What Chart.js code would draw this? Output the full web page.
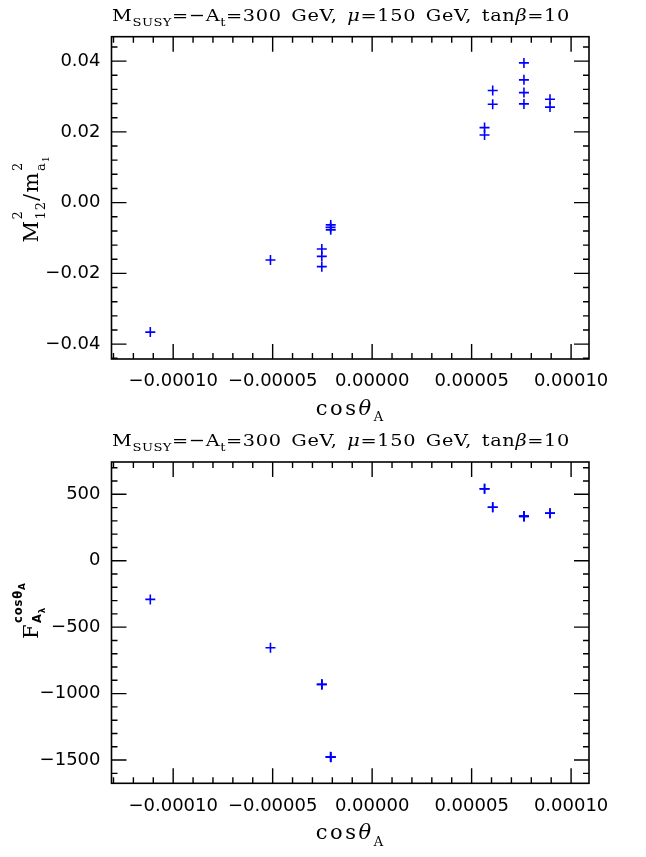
<!DOCTYPE html>
<html><head><meta charset="utf-8">
<script src="https://cdn.jsdelivr.net/npm/chart.js@4.4.1/dist/chart.umd.min.js"></script>
<style>
html,body{margin:0;padding:0;background:#fff;width:646px;height:857px;overflow:hidden}
canvas{position:absolute;left:0}
#c1{top:0}#c2{top:428px}
</style>
</head><body>
<canvas id="c1" width="646" height="428"></canvas>
<canvas id="c2" width="646" height="429"></canvas>
<script>
// ---- data ----
const cosThetaA = [-0.0001115, -0.0000511, -0.0000253, -0.0000253, -0.0000253, -0.0000208, -0.0000209, -0.0000208,
  0.0000565, 0.0000565, 0.0000606, 0.0000606, 0.0000763, 0.0000763, 0.0000763, 0.0000763, 0.0000894, 0.0000894];
const m12Ratio = [-0.0366, -0.0162, -0.0131, -0.0152, -0.0181, -0.0063, -0.0070, -0.0077,
  0.0212, 0.0191, 0.0317, 0.0278, 0.0395, 0.0347, 0.0311, 0.0279, 0.0292, 0.0270];
const fValues = [-291, -655, -931, -930, -932, -1478, -1476, -1479,
  542, 541, 402, 403, 334, 336, 333, 335, 357, 358];
const xTicks = [-0.0001, -0.00005, 0, 0.00005, 0.0001];
const yTicksTop = [-0.04, -0.02, 0, 0.02, 0.04];
const yTicksBottom = [-1500, -1000, -500, 0, 500];

const MINUS = '\u2212';
const fmtX = v => (v < 0 ? MINUS : '') + Math.abs(v).toFixed(5);
const fmtYTop = v => (Math.abs(v) < 1e-12 ? '0.00' : (v < 0 ? MINUS : '') + Math.abs(v).toFixed(2));
const fmtYBot = v => (v < 0 ? MINUS : '') + Math.abs(v);

const TITLE = [{t:'M'},{t:'SUSY',s:.68,dy:.3},{t:'='+MINUS+'A'},{t:'t',s:.68,dy:.3},{t:'=300'},{g:.5},{t:'GeV,'},{g:.5},
  {t:'\u03bc',i:1},{t:'=150'},{g:.5},{t:'GeV,'},{g:.5},{t:'tan'},{t:'\u03b2',i:1},{t:'=10'}];
const XLABEL = [{t:'cos'},{t:'\u03b8',i:1},{t:'A',s:.62,dy:.3}];
const YLABEL_TOP = [{t:'M'},{t:'2',s:.62,dy:-.78,m:1},{t:'12',s:.62,dy:.32,r:1},{t:'/'},{t:'m'},{t:'2',s:.62,dy:-.78,m:1},{t:'a',s:.62,dy:.32,r:1},{t:'1',s:.45,dy:.5}];
const YLABEL_BOT = [{t:'F'},{t:'cos\u03b8',s:.55,dy:-.78,m:1,f:'DejaVu Sans',b:1},{t:'A',s:.42,dy:-.62,f:'DejaVu Sans',b:1},
  {t:'A',s:.55,dy:.15,r:1,f:'DejaVu Sans',b:1},{t:'\u03bb',s:.42,dy:.32,f:'DejaVu Sans',b:1}];

const MINOR_X = 0.00001;

function drawRich(ctx, items, x, y, o) {
  const base = o.base;
  let cursor = 0, maxEnd = 0, anchor = 0;
  const placed = [];
  for (const it of items) {
    if (it.g) { cursor = maxEnd + it.g * base; maxEnd = cursor; continue; }
    const sz = base * (it.s || 1);
    const font = (it.i ? 'italic ' : '') + (it.b ? 'bold ' : '') + sz.toFixed(2) + 'px "' + (it.f || o.family) + '"';
    ctx.font = font;
    const ls = (o.ls || 0) * (it.s || 1);
    ctx.letterSpacing = ls + 'px';
    const w = ctx.measureText(it.t).width;
    if (it.m) anchor = (it.dy ? maxEnd : cursor);
    const sx = it.r ? anchor : (it.dy ? (it.m ? anchor : cursor) : maxEnd);
    placed.push({t: it.t, font, x: sx, dy: (it.dy || 0) * base, ls});
    cursor = sx + w;
    maxEnd = Math.max(maxEnd, cursor);
  }
  const total = maxEnd;
  let sc = 1, width = total;
  if (o.fit) { sc = o.fit / total; width = o.fit; }
  const ox = o.align === 'center' ? -width / 2 : 0;
  ctx.save();
  ctx.translate(x, y);
  if (o.rot) ctx.rotate(o.rot);
  ctx.translate(ox, 0);
  ctx.scale(sc, 1);
  ctx.textBaseline = 'alphabetic'; ctx.textAlign = 'left'; ctx.fillStyle = '#000';
  for (const p of placed) { ctx.font = p.font; ctx.letterSpacing = p.ls + 'px'; ctx.fillText(p.t, p.x, p.dy); }
  ctx.restore();
}

function makeDeco(cfg) {
  return {
    id: 'deco',
    afterDraw(chart) {
      const ctx = chart.ctx, a = chart.chartArea;
      const xs = chart.scales.x, ys = chart.scales.y;
      ctx.save();
      ctx.letterSpacing = '0px';
      ctx.strokeStyle = '#000';
      ctx.lineWidth = 1.4;
      const majL = 15, minL = 6;
      const near = (v, arr, st) => arr.some(m => Math.abs(m - v) < st * 0.01);
      ctx.beginPath();
      const kx0 = Math.ceil(xs.min / MINOR_X - 1e-6), kx1 = Math.floor(xs.max / MINOR_X + 1e-6);
      for (let k = kx0; k <= kx1; k++) {
        const v = k * MINOR_X;
        const L = near(v, xTicks, MINOR_X) ? majL : minL;
        const p = xs.getPixelForValue(v);
        ctx.moveTo(p, a.bottom); ctx.lineTo(p, a.bottom - L);
        ctx.moveTo(p, a.top); ctx.lineTo(p, a.top + L);
      }
      const ky0 = Math.ceil(ys.min / cfg.minorY - 1e-6), ky1 = Math.floor(ys.max / cfg.minorY + 1e-6);
      for (let k = ky0; k <= ky1; k++) {
        const v = k * cfg.minorY;
        const L = near(v, cfg.yMajor, cfg.minorY) ? majL : minL;
        const p = ys.getPixelForValue(v);
        ctx.moveTo(a.left, p); ctx.lineTo(a.left + L, p);
        ctx.moveTo(a.right, p); ctx.lineTo(a.right - L, p);
      }
      ctx.stroke();
      ctx.lineWidth = 1.6;
      ctx.strokeRect(a.left, a.top, a.right - a.left, a.bottom - a.top);
      ctx.restore();
      drawRich(ctx, TITLE, 341, cfg.titleY, {base: 17.5, family: 'DejaVu Serif', align: 'center', ls: 0.6, fit: 458});
      drawRich(ctx, XLABEL, (a.left + a.right) / 2, a.bottom + 56, {base: 21, family: 'DejaVu Serif', align: 'center', ls: 2.5});
      drawRich(ctx, cfg.yLabel, 38, cfg.yLabelY, {base: 21, family: 'DejaVu Serif', align: cfg.yLabelAlign, ls: 1.5, rot: -Math.PI / 2});
    }
  };
}

function makeChart(id, yVals, yMin, yMax, yTicks, fmtY, minorY, padTop, xH, yLabel, yLabelY, yLabelAlign, titleY) {
  const pts = cosThetaA.map((x, i) => ({x, y: yVals[i]}));
  return new Chart(document.getElementById(id), {
    type: 'scatter',
    data: {datasets: [{data: pts, pointStyle: 'cross', pointRadius: 5, pointHoverRadius: 5,
      borderColor: '#0000ff', backgroundColor: '#0000ff', pointBorderWidth: 1.6, borderWidth: 1.6, showLine: false}]},
    plugins: [makeDeco({minorY, yMajor: yTicks, titleY, yLabel, yLabelY, yLabelAlign})],
    options: {
      responsive: false, animation: false, devicePixelRatio: 1,
      layout: {padding: {top: padTop, right: 57, left: 0, bottom: 0}},
      plugins: {legend: {display: false}, tooltip: {enabled: false}, title: {display: false}},
      scales: {
        x: {type: 'linear', min: -0.000131, max: 0.000109,
          afterBuildTicks: s => { s.ticks = xTicks.map(v => ({value: v})); },
          afterFit: s => { s.height = xH; },
          grid: {display: false, drawTicks: false}, border: {display: false},
          ticks: {callback: fmtX, autoSkip: false, maxRotation: 0, padding: 12, color: '#000',
            font: {family: 'DejaVu Sans', size: 18}}},
        y: {type: 'linear', min: yMin, max: yMax,
          afterBuildTicks: s => { s.ticks = yTicks.map(v => ({value: v})); },
          afterFit: s => { s.width = 111.5; },
          grid: {display: false, drawTicks: false}, border: {display: false},
          ticks: {callback: fmtY, autoSkip: false, padding: 11, color: '#000',
            font: {family: 'DejaVu Sans', size: 18}}}
      }
    }
  });
}

makeChart('c1', m12Ratio, -0.0442, 0.0469, yTicksTop, fmtYTop, 0.004, 36.7, 69, YLABEL_TOP, 199, 'center', 21);
makeChart('c2', fValues, -1675, 743, yTicksBottom, fmtYBot, 100, 34, 73.7, YLABEL_BOT, 211, 'left', 18);
</script>
</body></html>
